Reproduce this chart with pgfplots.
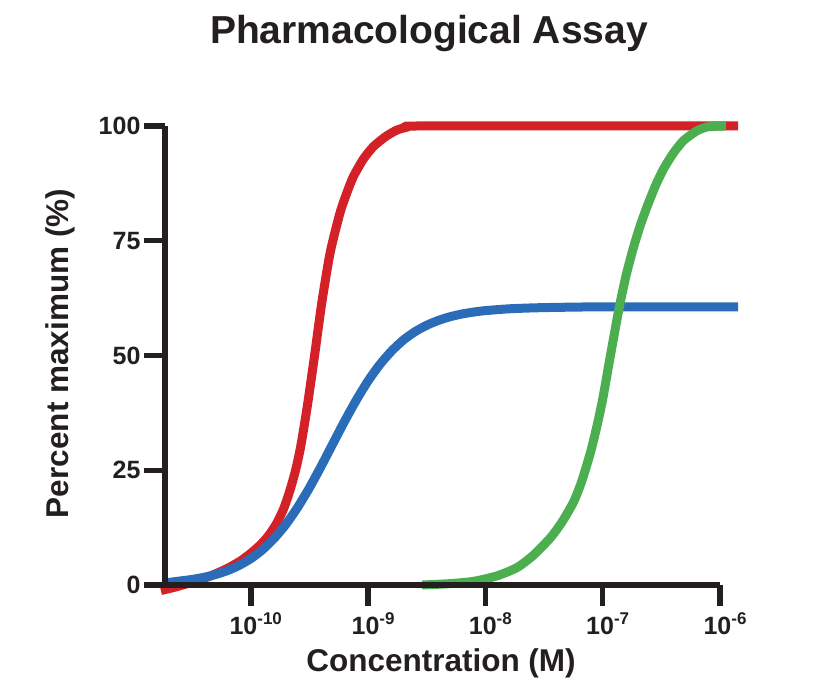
\documentclass[border=0pt]{standalone}
\usepackage{fontspec}
\setmainfont{Liberation Sans}
\usepackage{pgfplots}
\pgfplotsset{compat=1.18}
\definecolor{cred}{HTML}{D42027}
\definecolor{cblue}{HTML}{2B6CB8}
\definecolor{cgreen}{HTML}{4BAE4F}
\definecolor{axisc}{HTML}{231F20}
\newcommand{\tl}[1]{10\raisebox{0.42em}{\fontsize{17}{19}\selectfont -#1}}
\begin{document}
\begin{tikzpicture}
\begin{axis}[
  scale only axis, width=555pt, height=459pt,
  xmin=-10.731, xmax=-6, ymin=0, ymax=100,
  axis x line*=bottom, axis y line*=left,
  axis line style={line width=5.5pt, color=axisc},
  axis on top,
  clip=false,
  xtick={-10,-9,-8,-7,-6},
  xticklabels={\tl{10},\tl{9},\tl{8},\tl{7},\tl{6}},
  ytick={0,25,50,75,100},
  tick align=outside,
  major tick length=21pt,
  tick style={line width=5.5pt, color=axisc},
  /pgf/number format/assume math mode=true,
  ticklabel style={font=\fontsize{25}{28}\selectfont\bfseries, text=axisc},
  xticklabel style={yshift=-3pt, xshift=5pt},
  title={Pharmacological Assay},
  title style={font=\fontsize{39}{44}\selectfont\bfseries, text=axisc, anchor=base, at={(axis description cs:0.4757,1.1656)}},
  xlabel={Concentration (M)},
  xlabel style={font=\fontsize{31.5}{36}\selectfont\bfseries, text=axisc, anchor=base, at={(axis description cs:0.4973,-0.1874)}},
  ylabel={Percent maximum (\%)},
  ylabel style={font=\fontsize{31.5}{36}\selectfont\bfseries, text=axisc, anchor=center, at={(axis description cs:-0.1892,0.5044)}},
]
\addplot[cred, line width=9pt, line join=round, smooth, tension=0.4] coordinates {
(-10.766,-1.2) (-10.65,-0.5) (-10.5,0.6) (-10.35,1.9) (-10.2,3.6) (-10.09,5.2) (-10.0,6.9) (-9.92,8.7) (-9.85,10.7) (-9.78,13.4) (-9.72,16.6) (-9.665,20.7) (-9.62,24.8) (-9.58,29.4) (-9.545,34.6) (-9.51,40.3) (-9.456,50) (-9.395,61.4) (-9.324,72.3) (-9.24,81) (-9.18,85.5) (-9.125,89) (-9.04,92.8) (-8.955,95.5) (-8.85,97.7) (-8.755,99.1) (-8.66,99.8) (-8.585,100) (-7,100) (-5.846,100)
};
\addplot[cblue, line width=9pt, line join=round, smooth, tension=0.4] coordinates {
(-10.715,0.5) (-10.6,0.88) (-10.5,1.21) (-10.4,1.67) (-10.3,2.29) (-10.2,3.12) (-10.1,4.26) (-10.0,5.74) (-9.9,7.68) (-9.8,10.17) (-9.7,13.23) (-9.6,16.93) (-9.5,21.17) (-9.4,25.87) (-9.3,30.79) (-9.2,35.69) (-9.1,40.29) (-9.0,44.46) (-8.9,48.02) (-8.8,50.97) (-8.7,53.35) (-8.6,55.18) (-8.5,56.59) (-8.4,57.65) (-8.3,58.45) (-8.2,59.04) (-8.1,59.46) (-8.0,59.78) (-7.8,60.17) (-7.6,60.37) (-7.4,60.48) (-7.0,60.6) (-5.846,60.6)
};
\addplot[cgreen, line width=9pt, line join=round, smooth, tension=0.4] coordinates {
(-8.54,0.0) (-8.3,0.3) (-8.1,0.8) (-7.9,2.0) (-7.73,3.8) (-7.59,6.5) (-7.445,10.3) (-7.35,13.6) (-7.25,18.0) (-7.18,22.5) (-7.105,28.8) (-7.05,34.5) (-7.0,40.5) (-6.934,50) (-6.858,60.6) (-6.8,67.5) (-6.738,73.5) (-6.68,78.3) (-6.622,82.4) (-6.55,87) (-6.482,90.6) (-6.4,94) (-6.312,96.8) (-6.2,98.9) (-6.107,99.8) (-5.95,100)
};
\coordinate (O) at (rel axis cs:0,0);
\end{axis}
\pgfresetboundingbox
\path ([shift={(-165pt,-106pt)}]O) rectangle ([shift={(657pt,585pt)}]O);
\end{tikzpicture}
\end{document}
